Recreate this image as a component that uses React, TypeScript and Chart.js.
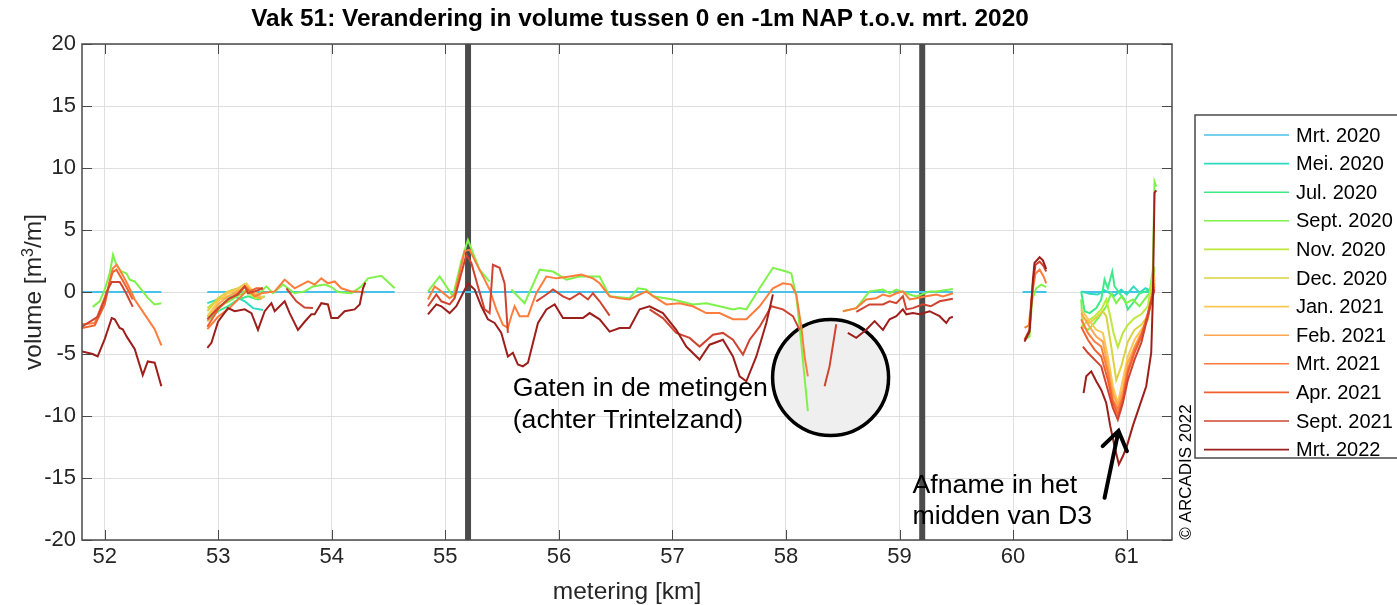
import React, { useEffect, useRef } from 'react';
import { Chart, registerables } from 'chart.js';

Chart.register(...registerables);

type Pt = [number, number | null];

const FONT = '"Liberation Sans", Arial, Helvetica, sans-serif';

// Axis set-up
const xMin = 51.8;
const xMax = 61.4;
const xTickValues = [52, 53, 54, 55, 56, 57, 58, 59, 60, 61];
const yMin = -20;
const yMax = 20;
const yStep = 5;

// Section boundaries (km) shown as heavy vertical lines
const dividerKm = [55.2, 59.2];

const seriesLabels = [
  'Mrt. 2020', 'Mei. 2020', 'Jul. 2020', 'Sept. 2020', 'Nov. 2020', 'Dec. 2020',
  'Jan. 2021', 'Feb. 2021', 'Mrt. 2021', 'Apr. 2021', 'Sept. 2021', 'Mrt. 2022',
];
const seriesColors = [
  '#48c2ea', '#2fdcc0', '#3ee987', '#7ef24a', '#bde83c', '#dbd23f',
  '#ffc653', '#ffa64f', '#ff7d3c', '#f2602e', '#cf4430', '#9c1f1c',
];

// Volume change [m3/m] per measurement, [km, value]; null marks a gap in the survey
const mrt2020: Pt[] = [
  [51.8, 0], [52.5, 0], [52.7, null],
  [52.904, 0], [54.554, 0], [54.7, null],
  [54.847, 0], [59.47, 0], [59.8, null],
  [60.084, 0], [60.295, 0], [60.45, null],
  [60.6, 0], [61.25, 0],
];

const mei2020: Pt[] = [
  [52.904, -0.9], [53.028, -0.5], [53.145, -0.35], [53.233, -0.75], [53.306, -1.3], [53.394, -1.45], [57, null],
  [60.6, 0.05], [60.674, -0.15], [60.747, -0.2], [60.806, 0.15], [60.85, -0.1], [60.894, -0.3], [60.953, 0.2],
  [61.002, -0.2], [61.061, 0.45], [61.114, -0.05], [61.167, 0.3], [61.217, 0.05], [61.246, 0.6],
];

const jul2020: Pt[] = [
  [52.904, -2.35], [52.998, -1.55], [53.086, -1.15], [53.174, -0.6], [53.262, -0.35], [53.35, -0.6], [53.409, -0.35], [57, null],
  [60.6, 0.05], [60.63, -1.55], [60.674, -1.7], [60.733, -1.3], [60.777, -0.6], [60.806, 1.0], [60.835, 0.3],
  [60.874, 1.65], [60.894, 0.45], [60.938, -0.1], [60.982, -0.6], [61.011, -1.4], [61.055, -0.9], [61.114, -0.1],
  [61.173, 0.05], [61.217, 0.3], [61.246, 1.8],
];

const sept2020: Pt[] = [
  [51.894, -1.2], [51.956, -0.75], [52.0, 0.2], [52.044, 1.5], [52.073, 3.0], [52.103, 2.2], [52.147, 1.65],
  [52.191, 1.5], [52.22, 1.0], [52.264, 0.85], [52.323, 0.2], [52.381, -0.5], [52.44, -1.0], [52.499, -0.9], [52.7, null],
  [52.904, -2.0], [52.998, -1.2], [53.086, -0.8], [53.174, -0.3], [53.262, 0.1], [53.321, -0.5], [53.424, 0.45],
  [53.482, -0.1], [53.57, 0.6], [53.673, -0.1], [53.761, 0.05], [53.834, 0.45], [53.937, 0.6], [53.996, 0.4],
  [54.054, 0], [54.172, -0.1], [54.26, 0.45], [54.319, 1.1], [54.437, 1.3], [54.554, 0.3], [54.7, null],
  [54.847, 0.05], [54.95, 1.25], [55.038, 0.05], [55.067, -0.35], [55.141, 2.5], [55.199, 4.2], [55.302, 1.8],
  [55.375, 1.0], [55.39, 0.85], [55.48, null],
  [55.581, 0.2], [55.698, -0.9], [55.831, 1.8], [55.948, 1.65], [56.066, 1.0], [56.183, 1.25], [56.359, 1.25],
  [56.447, -0.35], [56.623, -0.5], [56.696, 0.3], [56.77, 0.2], [56.828, -0.35], [57.004, -0.6], [57.18, -1.0],
  [57.298, -0.9], [57.415, -1.15], [57.533, -1.4], [57.592, -1.3], [57.651, -1.4], [57.768, 0.3], [57.885, 1.95],
  [58.003, 1.65], [58.047, 1.5], [58.091, -0.35], [58.12, -2.8], [58.193, -9.6], [58.35, null],
  [58.501, -1.55], [58.619, -1.3], [58.736, 0.05], [58.854, 0.2], [58.913, -0.1], [58.972, 0.2], [59.089, -0.2],
  [59.148, -0.35], [59.265, 0.05], [59.324, 0.05], [59.441, 0.2], [59.47, 0.25], [59.8, null],
  [60.101, -3.85], [60.145, -3.6], [60.169, -0.6], [60.204, 0.3], [60.249, 0.6], [60.292, 0.4], [60.45, null],
  [60.6, -0.6], [60.615, -2.8], [60.659, -3.05], [60.703, -2.65], [60.762, -1.95], [60.821, -1.15], [60.865, -0.1],
  [60.909, -0.9], [60.953, -0.35], [60.997, -0.9], [61.055, -0.6], [61.114, -1.15], [61.158, -0.6], [61.202, -0.1],
  [61.231, 1.8], [61.246, 8.9], [61.261, 8.5],
];

const nov2020: Pt[] = [
  [52.904, -1.3], [52.998, -0.6], [53.086, -0.35], [53.204, 0.2], [53.262, -0.1], [53.336, -0.5], [53.409, -0.35], [57, null],
  [60.6, -2.8], [60.659, -2.35], [60.718, -1.95], [60.777, -1.4], [60.821, -0.6], [60.856, -1.95], [60.885, -3.3],
  [60.923, -4.45], [60.967, -3.3], [61.011, -2.65], [61.07, -2.1], [61.129, -1.8], [61.187, -1.15], [61.246, 2.05],
];

const dec2020: Pt[] = [
  [52.904, -1.55], [52.998, -0.5], [53.086, 0.05], [53.174, 0.3], [53.233, 0.65], [53.277, 0.3], [53.321, -0.2], [53.38, -0.6], [57, null],
  [60.6, -1.95], [60.674, -2.5], [60.747, -1.95], [60.791, -1.55], [60.821, -1.95], [60.865, -4.4], [60.909, -7.1],
  [60.953, -6.0], [61.011, -4.0], [61.07, -3.05], [61.129, -2.65], [61.187, -1.95], [61.246, 1.5],
];

const jan2021: Pt[] = [
  [52.904, -1.95], [52.998, -0.75], [53.086, -0.1], [53.174, 0.2], [53.248, 0.7], [53.292, 0.2], [53.35, -0.2], [53.394, -0.5], [57, null],
  [60.6, -1.4], [60.674, -2.35], [60.733, -3.05], [60.791, -3.3], [60.835, -5.2], [60.879, -7.6], [60.923, -8.95],
  [60.967, -7.1], [61.011, -5.2], [61.07, -3.85], [61.129, -3.05], [61.187, -2.2], [61.246, 1.25],
];

const feb2021: Pt[] = [
  [52.904, -2.35], [52.998, -1.0], [53.086, -0.35], [53.174, 0.05], [53.248, 0.45], [53.306, -0.1], [53.38, -0.6], [57, null],
  [60.6, -1.7], [60.674, -2.8], [60.733, -3.6], [60.791, -4.0], [60.835, -6.0], [60.879, -8.15], [60.923, -9.2],
  [60.967, -7.9], [61.011, -5.7], [61.07, -4.4], [61.129, -3.3], [61.187, -2.2], [61.246, 1.0],
];

const mrt2021: Pt[] = [
  [51.8, -2.6], [51.912, -2.5], [52.026, 0.2], [52.07, 1.9], [52.106, 2.2], [52.15, 1.5], [52.203, 0.6],
  [52.264, -0.6], [52.352, -1.8], [52.44, -3.0], [52.499, -4.3], [52.7, null],
  [52.904, -3.0], [52.998, -2.0], [53.086, -1.4], [53.174, -0.6], [53.262, 0.2], [53.321, -0.35], [53.38, -0.1],
  [53.497, 0.05], [53.585, 1.0], [53.673, 0.3], [53.79, 0.85], [53.849, 0.6], [53.908, 1.1], [53.966, 0.7],
  [54.025, 0.85], [54.084, 0.3], [54.172, 0.05], [54.231, 0.05], [54.29, -0.05], [54.5, null],
  [54.847, -0.6], [54.906, 0.45], [54.965, 0.05], [55.038, -0.5], [55.082, -0.2], [55.17, 3.3], [55.214, 3.4],
  [55.287, 2.05], [55.346, 1.0], [55.39, 0.2], [55.449, -1.4], [55.507, -2.65], [55.551, -2.9], [55.581, -1.95],
  [55.61, -1.15], [55.654, -1.95], [55.728, -1.95], [55.801, -0.1], [55.89, 1.25], [55.978, 1.1], [56.095, 1.25],
  [56.198, 1.4], [56.3, 1.1], [56.359, 0.7], [56.447, -0.35], [56.535, -0.5], [56.623, -0.6], [56.711, -0.2],
  [56.77, 0.05], [56.858, -0.5], [56.946, -1.0], [57.063, -0.9], [57.18, -1.15], [57.298, -1.7], [57.415, -1.7],
  [57.533, -2.2], [57.651, -2.2], [57.768, -1.15], [57.885, 0.3], [57.973, 0.7], [58.047, 0.6], [58.091, -0.2],
  [58.135, -2.8], [58.164, -5.2], [58.193, -6.8], [58.35, null],
  [58.501, -1.55], [58.619, -1.3], [58.707, -0.6], [58.796, -0.5], [58.854, -0.2], [58.913, -0.35], [58.972, -0.1],
  [59.03, 0.05], [59.089, -0.6], [59.148, -0.5], [59.236, -0.35], [59.324, -0.2], [59.382, -0.35], [59.47, -0.1], [59.8, null],
  [60.101, -2.9], [60.139, -2.7], [60.169, -0.1], [60.198, 1.5], [60.234, 1.8], [60.269, 1.25], [60.292, 0.7], [60.45, null],
  [60.6, -2.2], [60.659, -3.3], [60.718, -4.0], [60.777, -4.4], [60.835, -6.5], [60.879, -8.7], [60.923, -9.5],
  [60.967, -8.4], [61.011, -6.25], [61.07, -4.65], [61.129, -3.45], [61.187, -1.95], [61.246, 0.7],
];

const apr2021: Pt[] = [
  [51.8, -2.9], [51.912, -2.7], [52.0, -1.0], [52.044, 0.8], [52.07, 1.6], [52.103, 1.8], [52.147, 1.1],
  [52.191, 0.4], [52.247, -0.6], [52.7, null],
  [52.904, -2.8], [52.998, -1.4], [53.086, -0.6], [53.174, -0.1], [53.233, 0.45], [53.277, 0.05], [53.336, 0.3], [53.394, 0.3], [57, null],
  [60.6, -2.8], [60.659, -3.85], [60.718, -4.65], [60.777, -5.2], [60.835, -7.1], [60.879, -8.95], [60.923, -9.9],
  [60.967, -8.7], [61.011, -6.5], [61.07, -4.9], [61.129, -3.6], [61.187, -1.7], [61.246, 0.45],
];

const sept2021: Pt[] = [
  [51.8, -2.8], [51.938, -2.0], [52.0, -0.6], [52.026, 0.2], [52.062, 0.8], [52.132, 0.8], [52.159, 0.4],
  [52.194, -0.2], [52.247, -1.2], [52.7, null],
  [52.904, -2.2], [52.998, -1.3], [53.086, -0.6], [53.174, -0.2], [53.233, 0.45], [53.262, -0.1], [53.321, 0.05], [53.394, 0.3], [53.5, null],
  [53.6, 0.3], [53.688, -0.75], [53.76, -1.25], [53.834, -1.3], [54.5, null],
  [54.847, -1.15], [54.921, -0.2], [54.965, -0.75], [55.038, -1.0], [55.082, -0.5], [55.185, 3.0], [55.229, 2.35],
  [55.287, 0.45], [55.346, -1.4], [55.39, -1.7], [55.419, 2.2], [55.478, 1.95], [55.522, 0.7], [55.551, -3.3], [55.65, null],
  [55.801, -0.75], [55.89, -0.2], [55.948, 0.2], [56.036, -0.35], [56.095, -0.6], [56.183, -0.1], [56.256, -0.6],
  [56.3, -0.1], [56.359, -0.75], [56.447, -1.9], [56.6, null],
  [56.799, -1.4], [56.916, -2.1], [57.034, -3.3], [57.151, -3.7], [57.239, -4.4], [57.357, -3.45], [57.445, -3.3],
  [57.533, -3.85], [57.621, -5.05], [57.68, -3.85], [57.768, -2.8], [57.871, -1.15], [57.973, -1.4], [58.061, -1.95],
  [58.12, -3.05], [58.25, null],
  [58.34, -7.6], [58.384, -6.0], [58.443, -2.6], [58.5, null],
  [58.62, -1.6], [58.736, -1.0], [58.854, -1.0], [58.913, -0.75], [58.972, -0.9], [59.03, -0.35], [59.06, -1.4],
  [59.118, -1.3], [59.206, -1.0], [59.275, -1.15], [59.353, -0.75], [59.47, -0.55], [59.8, null],
  [60.101, -3.85], [60.145, -3.05], [60.175, 0.7], [60.198, 2.2], [60.234, 2.45], [60.269, 2.1], [60.292, 1.65], [60.45, null],
  [60.615, -4.4], [60.659, -4.9], [60.718, -5.45], [60.777, -6.0], [60.835, -7.9], [60.879, -9.35], [60.923, -10.3],
  [60.967, -8.95], [61.011, -7.1], [61.07, -5.45], [61.129, -4.1], [61.187, -1.95], [61.246, 0.2],
];

const mrt2022: Pt[] = [
  [51.8, -4.8], [51.894, -5.0], [51.938, -5.2], [52.0, -3.8], [52.062, -2.1], [52.088, -2.2], [52.132, -2.9],
  [52.159, -3.0], [52.194, -3.6], [52.264, -4.6], [52.335, -6.7], [52.379, -5.6], [52.44, -5.7], [52.499, -7.6], [52.7, null],
  [52.904, -4.5], [52.94, -4.1], [52.998, -2.4], [53.086, -1.3], [53.145, -1.55], [53.233, -1.4], [53.292, -1.7],
  [53.35, -3.05], [53.409, -1.55], [53.468, -0.9], [53.497, -1.55], [53.585, -0.75], [53.629, -1.7], [53.702, -3.05],
  [53.761, -2.4], [53.82, -1.8], [53.849, -1.8], [53.908, -0.9], [53.966, -1.0], [53.996, -2.1], [54.054, -2.1],
  [54.113, -1.55], [54.201, -1.4], [54.246, -1.0], [54.275, 0.3], [54.296, 0.75], [54.6, null],
  [54.847, -1.8], [54.921, -1.0], [54.965, -1.15], [55.038, -1.7], [55.097, -1.15], [55.199, 0.7], [55.258, 0.2],
  [55.317, -1.15], [55.375, -2.2], [55.434, -2.5], [55.493, -3.3], [55.551, -5.2], [55.595, -4.9], [55.639, -5.85],
  [55.683, -6.0], [55.728, -5.7], [55.772, -4.1], [55.816, -2.5], [55.89, -1.4], [55.963, -1.0], [56.036, -2.1],
  [56.212, -2.1], [56.271, -1.7], [56.359, -2.2], [56.447, -3.2], [56.535, -2.9], [56.623, -2.9], [56.711, -1.4],
  [56.799, -1.15], [56.916, -1.7], [57.034, -3.05], [57.122, -4.4], [57.239, -5.45], [57.327, -4.25], [57.445, -3.85],
  [57.533, -5.2], [57.592, -6.8], [57.651, -7.2], [57.739, -5.2], [57.827, -2.5], [57.885, -0.2], [58.3, null],
  [58.545, -3.3], [58.619, -3.7], [58.707, -3.05], [58.781, -2.35], [58.854, -3.05], [58.913, -2.2], [58.972, -1.95],
  [59.03, -1.4], [59.06, -1.8], [59.118, -1.7], [59.177, -1.8], [59.265, -1.55], [59.353, -1.95], [59.412, -2.5],
  [59.441, -2.1], [59.47, -2.0], [59.8, null],
  [60.101, -4.0], [60.145, -3.2], [60.175, 1.0], [60.189, 2.35], [60.234, 2.8], [60.263, 2.55], [60.292, 1.85], [60.45, null],
  [60.621, -8.15], [60.645, -6.8], [60.689, -6.4], [60.733, -7.2], [60.777, -7.9], [60.821, -8.95], [60.856, -10.8],
  [60.894, -12.45], [60.932, -13.9], [60.967, -13.25], [61.002, -12.45], [61.055, -10.8], [61.114, -9.2],
  [61.173, -7.6], [61.217, -4.9], [61.231, -0.6], [61.246, 8.0], [61.261, 8.2],
];

const seriesData: Pt[][] = [
  mrt2020, mei2020, jul2020, sept2020, nov2020, dec2020,
  jan2021, feb2021, mrt2021, apr2021, sept2021, mrt2022,
];

// Annotation anchors in data units (km, m3/m)
const gapNote = { x: 55.593, y: -7.8, lines: ['Gaten in de metingen', '(achter Trintelzand)'] };
const gapCircle = { x: 58.393, y: -6.9 };
const dropNote = { x: 59.115, y: -15.6, lines: ['Afname in het', 'midden van D3'] };
const dropArrow = { fromX: 60.806, fromY: -16.6, toX: 60.929, toY: -11.2 };

const decorPlugin = {
  id: 'decor',
  beforeDatasetsDraw(chart: any) {
    const { ctx } = chart;
    const xs = chart.scales.x;
    const ys = chart.scales.y;
    const cx = xs.getPixelForValue(gapCircle.x);
    const cy = ys.getPixelForValue(gapCircle.y);
    ctx.save();
    ctx.beginPath();
    ctx.arc(cx, cy, 58, 0, Math.PI * 2);
    ctx.fillStyle = '#efefef';
    ctx.fill();
    ctx.lineWidth = 3.5;
    ctx.strokeStyle = '#000';
    ctx.stroke();
    ctx.restore();
  },
  afterDraw(chart: any) {
    const { ctx, chartArea: a } = chart;
    const xs = chart.scales.x;
    const ys = chart.scales.y;
    ctx.save();

    // axes box
    ctx.strokeStyle = '#4a4a4a';
    ctx.lineWidth = 1.5;
    ctx.strokeRect(a.left, a.top, a.right - a.left, a.bottom - a.top);

    // inward tick marks on all four sides
    ctx.lineWidth = 1;
    ctx.beginPath();
    xTickValues.forEach((v) => {
      const px = Math.round(xs.getPixelForValue(v)) + 0.5;
      ctx.moveTo(px, a.bottom); ctx.lineTo(px, a.bottom - 10);
      ctx.moveTo(px, a.top); ctx.lineTo(px, a.top + 10);
    });
    for (let v = yMin; v <= yMax; v += yStep) {
      const py = Math.round(ys.getPixelForValue(v)) + 0.5;
      ctx.moveTo(a.left, py); ctx.lineTo(a.left + 10, py);
      ctx.moveTo(a.right, py); ctx.lineTo(a.right - 10, py);
    }
    ctx.stroke();

    // title
    ctx.fillStyle = '#000';
    ctx.textAlign = 'center';
    ctx.textBaseline = 'middle';
    ctx.font = `bold 24.4px ${FONT}`;
    ctx.fillText('Vak 51: Verandering in volume tussen 0 en -1m NAP t.o.v. mrt. 2020', 640, 19);

    // x axis title
    ctx.fillStyle = '#262626';
    ctx.font = `24.5px ${FONT}`;
    ctx.fillText('metering [km]', (a.left + a.right) / 2, 592);

    // y axis title with superscript
    ctx.save();
    ctx.translate(33, (a.top + a.bottom) / 2);
    ctx.rotate(-Math.PI / 2);
    ctx.font = `24.5px ${FONT}`;
    const p1 = 'volume [m';
    const p3 = '/m]';
    const w1 = ctx.measureText(p1).width;
    const w3 = ctx.measureText(p3).width;
    ctx.font = `16px ${FONT}`;
    const w2 = ctx.measureText('3').width;
    const start = -(w1 + w2 + w3) / 2;
    ctx.textAlign = 'left';
    ctx.textBaseline = 'alphabetic';
    ctx.font = `24.5px ${FONT}`;
    ctx.fillText(p1, start, 8);
    ctx.font = `16px ${FONT}`;
    ctx.fillText('3', start + w1, 0);
    ctx.font = `24.5px ${FONT}`;
    ctx.fillText(p3, start + w1 + w2, 8);
    ctx.restore();

    // annotations
    ctx.fillStyle = '#000';
    ctx.textAlign = 'left';
    ctx.textBaseline = 'middle';
    ctx.font = `26.7px ${FONT}`;
    const gx = xs.getPixelForValue(gapNote.x);
    const gy = ys.getPixelForValue(gapNote.y);
    gapNote.lines.forEach((t, i) => ctx.fillText(t, gx, gy + i * 32));
    const dx = xs.getPixelForValue(dropNote.x);
    const dy = ys.getPixelForValue(dropNote.y);
    dropNote.lines.forEach((t, i) => ctx.fillText(t, dx, dy + i * 31));

    // arrow
    const ax0 = xs.getPixelForValue(dropArrow.fromX);
    const ay0 = ys.getPixelForValue(dropArrow.fromY);
    const ax1 = xs.getPixelForValue(dropArrow.toX);
    const ay1 = ys.getPixelForValue(dropArrow.toY);
    const ang = Math.atan2(ay1 - ay0, ax1 - ax0);
    ctx.strokeStyle = '#000';
    ctx.lineWidth = 4;
    ctx.lineCap = 'round';
    ctx.beginPath();
    ctx.moveTo(ax0, ay0);
    ctx.lineTo(ax1, ay1);
    ctx.moveTo(ax1 + Math.cos(ang + Math.PI - 0.6) * 22, ay1 + Math.sin(ang + Math.PI - 0.6) * 22);
    ctx.lineTo(ax1, ay1);
    ctx.lineTo(ax1 + Math.cos(ang + Math.PI + 0.6) * 22, ay1 + Math.sin(ang + Math.PI + 0.6) * 22);
    ctx.stroke();

    // copyright
    ctx.save();
    ctx.translate(a.right + 14, 472);
    ctx.rotate(-Math.PI / 2);
    ctx.font = `17px ${FONT}`;
    ctx.fillStyle = '#000';
    ctx.textAlign = 'center';
    ctx.textBaseline = 'middle';
    ctx.fillText('\u00A9 ARCADIS 2022', 0, 0);
    ctx.restore();

    // legend
    const lx = 1195;
    const ly = 115;
    ctx.fillStyle = '#fff';
    ctx.fillRect(lx, ly, 1397 - lx, 343);
    ctx.strokeStyle = '#4a4a4a';
    ctx.lineWidth = 1.5;
    ctx.strokeRect(lx, ly, 1397 - lx + 5, 343);
    ctx.font = `20px ${FONT}`;
    ctx.textAlign = 'left';
    ctx.textBaseline = 'middle';
    seriesLabels.forEach((label, i) => {
      const y = 135 + i * 28.6;
      ctx.strokeStyle = seriesColors[i];
      ctx.lineWidth = 1.6;
      ctx.lineCap = 'butt';
      ctx.beginPath();
      ctx.moveTo(1204, y);
      ctx.lineTo(1289, y);
      ctx.stroke();
      ctx.fillStyle = '#000';
      ctx.fillText(label, 1296, y + 1);
    });

    ctx.restore();
  },
};

export default function App() {
  const canvasRef = useRef<HTMLCanvasElement | null>(null);

  useEffect(() => {
    const canvas = canvasRef.current;
    if (!canvas) return;

    const datasets: any[] = seriesData.map((pts, i) => ({
      label: seriesLabels[i],
      data: pts.map(([x, y]) => ({ x, y })),
      borderColor: seriesColors[i],
      backgroundColor: seriesColors[i],
      borderWidth: 2,
      pointRadius: 0,
      tension: 0,
      spanGaps: false,
      order: seriesLabels.length - 1 - i,
    }));
    dividerKm.forEach((km) => {
      datasets.push({
        label: `grens ${km}`,
        data: [{ x: km, y: yMin }, { x: km, y: yMax }],
        borderColor: '#4b4b4b',
        borderWidth: 6,
        pointRadius: 0,
        order: 100,
      });
    });

    const chart = new Chart(canvas, {
      type: 'line',
      data: { datasets },
      options: {
        animation: false,
        responsive: false,
        maintainAspectRatio: false,
        events: [],
        layout: { padding: { left: 0, top: 44, right: 225, bottom: 0 } },
        plugins: {
          legend: { display: false },
          title: { display: false },
          tooltip: { enabled: false },
        },
        scales: {
          x: {
            type: 'linear',
            min: xMin,
            max: xMax,
            afterBuildTicks: (scale: any) => {
              scale.ticks = xTickValues.map((v) => ({ value: v }));
            },
            afterFit: (scale: any) => {
              scale.height = 65;
            },
            grid: { color: '#dfdfdf', lineWidth: 1, drawTicks: false },
            border: { display: false },
            ticks: {
              autoSkip: false,
              maxRotation: 0,
              padding: 4,
              color: '#262626',
              font: { family: FONT, size: 22 },
            },
          },
          y: {
            type: 'linear',
            min: yMin,
            max: yMax,
            afterFit: (scale: any) => {
              scale.width = 82;
            },
            grid: { color: '#dfdfdf', lineWidth: 1, drawTicks: false },
            border: { display: false },
            ticks: {
              stepSize: yStep,
              padding: 6,
              color: '#262626',
              font: { family: FONT, size: 22 },
            },
          },
        },
      },
      plugins: [decorPlugin],
    });

    return () => chart.destroy();
  }, []);

  return (
    <div style={{ position: 'absolute', left: 0, top: 0, width: 1397, height: 605, background: '#fff' }}>
      <canvas ref={canvasRef} width={1397} height={605} style={{ display: 'block', width: 1397, height: 605 }} />
    </div>
  );
}
